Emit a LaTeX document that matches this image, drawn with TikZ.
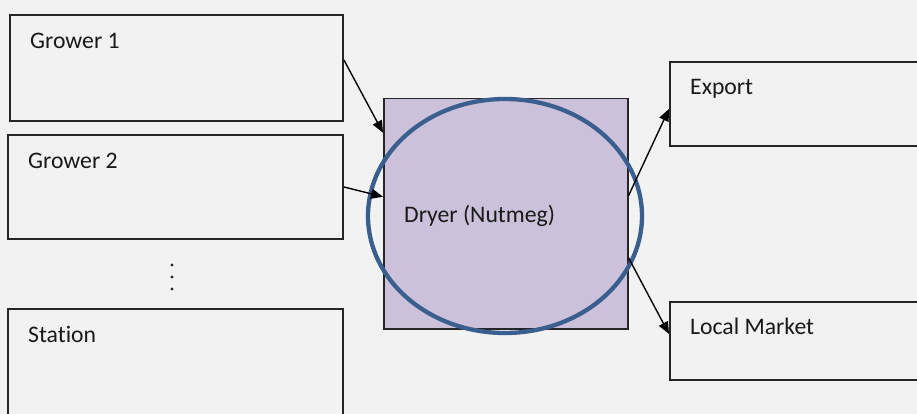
\documentclass[tikz,border=0pt]{standalone}
\usepackage{fontspec}
\setmainfont[Ligatures=NoCommon]{Carlito}
\usetikzlibrary{arrows.meta}
\definecolor{bg}{HTML}{F2F2F2}
\definecolor{lav}{HTML}{CCC1DA}
\definecolor{ringblue}{HTML}{3A5F8E}
\begin{document}
\begin{tikzpicture}[x=1pt,y=-1pt,
  box/.style={draw=black!85,line width=1.9pt,rectangle,anchor=north west,inner sep=0pt},
  lbl/.style={anchor=base west,inner sep=0pt,font=\fontsize{23.7}{28}\selectfont,text=black!90},
  flow/.style={line width=1.4pt,-{Triangle[length=12pt,width=10pt]}}]
\useasboundingbox (0,0) rectangle (917,414);
\clip (0,0) rectangle (917,414);
\fill[bg] (0,0) rectangle (917,414);
% left boxes
\node[box,minimum width=333,minimum height=106] (g1) at (9,14) {};
\node[box,minimum width=335,minimum height=104] (g2) at (7,134) {};
\node[box,minimum width=335,minimum height=120] (st) at (7,308) {};
\node[lbl] (g1t) at (30,49) {Grower 1};
\node[lbl] (g2t) at (28,168) {Grower 2};
\node[lbl] (stt) at (28,342) {Station};
% dots
\fill[black!85] (172,265) circle (1.7) (172,277) circle (1.7) (172,289) circle (1.7);
% dryer
\node[box,fill=lav,line width=1.5pt,minimum width=244,minimum height=230] (dr) at (383,98) {};
\draw[ringblue,line width=4.3pt] (505,216) ellipse [x radius=137, y radius=117];
\node[lbl] (drt) at (404,222) {Dryer (Nutmeg)};
% right boxes
\node[box,minimum width=260,minimum height=84] (ex) at (669,61) {};
\node[box,minimum width=260,minimum height=78] (lm) at (669,301) {};
\node[lbl] (ext) at (690,95) {Export};
\node[lbl] (lmt) at (690,334) {Local Market};
% connectors
\draw[flow] ([yshift=8]g1.east) -- ([yshift=81]dr.west);
\draw[flow] (g2.east) -- ([yshift=17]dr.west);
\draw[flow] ([yshift=18]dr.east) -- ([yshift=-5]ex.west);
\draw[flow] ([yshift=-44]dr.east) -- ([yshift=7]lm.west);
\end{tikzpicture}
\end{document}
